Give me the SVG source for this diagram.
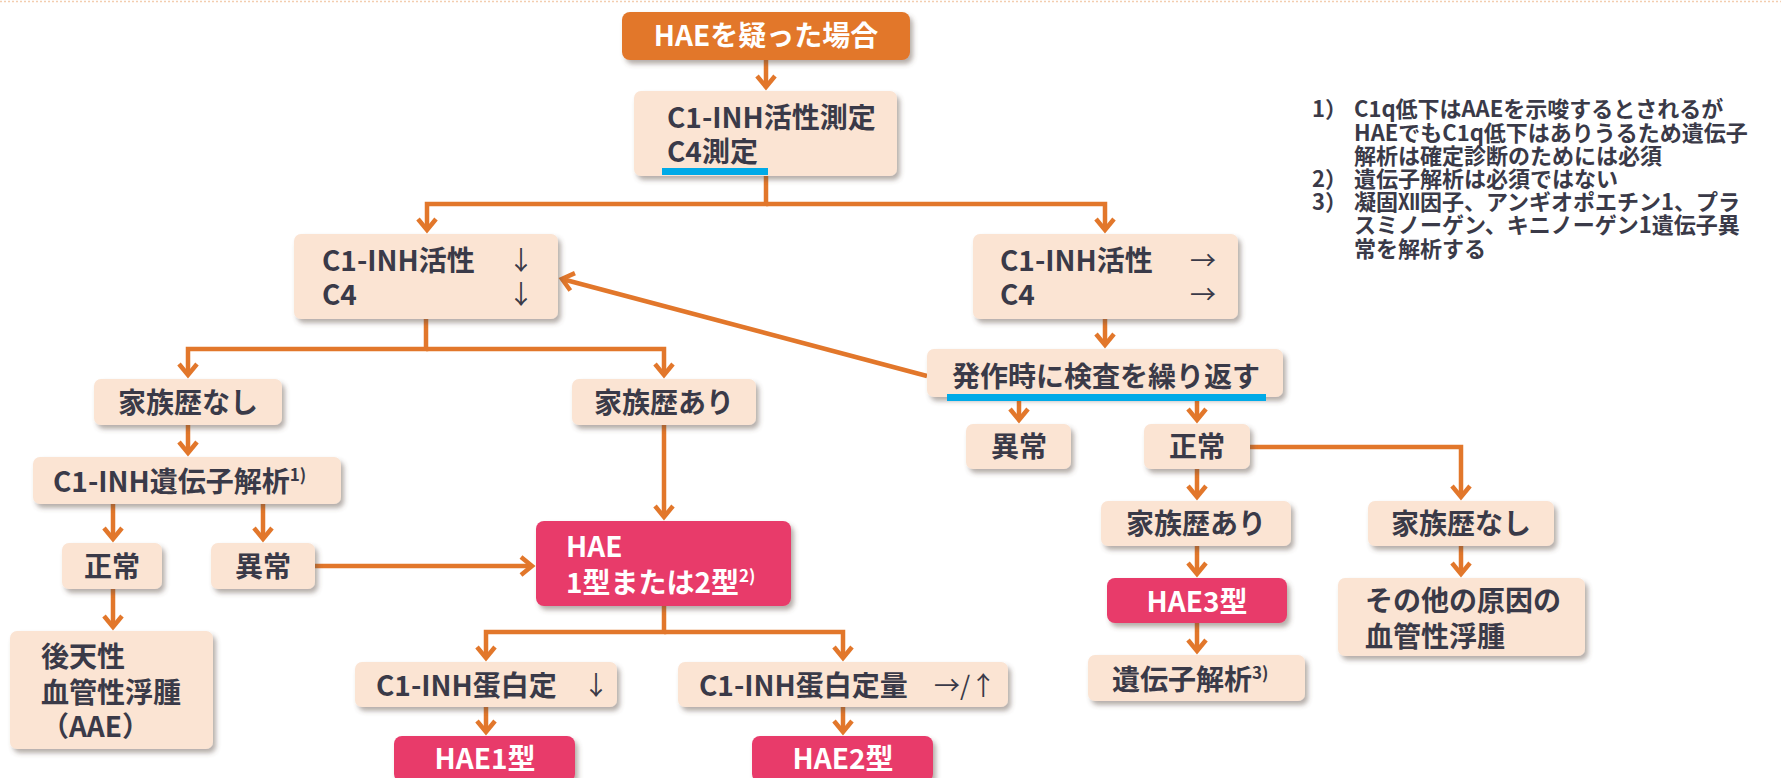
<svg xmlns="http://www.w3.org/2000/svg" width="1781" height="778" viewBox="0 0 1781 778">
  <style>
    .box { fill: #FBE4D3; filter: url(#sh); }
    .pink { fill: #E83B6B; filter: url(#sh); }
    .start { fill: #E2772B; filter: url(#sh); }
    .t { font-family: "Noto Sans CJK JP", "Noto Sans", sans-serif; font-weight: bold; font-size: 28px; fill: #3A3A48; }
    .w { fill: #FFFFFF; }
    .c { text-anchor: middle; }
    .arr { font-family: "Noto Sans CJK JP", sans-serif; font-weight: normal; font-size: 26px; fill: #3A3A48; }
    .sup { font-size: 17px; }
    .note { font-family: "Noto Sans CJK JP", "Noto Sans", sans-serif; font-weight: bold; font-size: 22px; fill: #3A3A48; }
    .ul { fill: #00AAE7; }
    .conn path { fill: none; stroke: #E2772B; stroke-width: 4.5; stroke-linejoin: miter; marker-end: url(#ah); }
  </style>
  <defs>
    <filter id="sh" x="-10%" y="-20%" width="125%" height="150%">
      <feDropShadow dx="3" dy="4" stdDeviation="2.5" flood-color="#5A4A40" flood-opacity="0.45"/>
    </filter>
    <marker id="ah" markerUnits="userSpaceOnUse" orient="auto" refX="0" refY="0" markerWidth="30" markerHeight="30" viewBox="-15 -15 30 30" overflow="visible">
      <path d="M-11,-9 L0,0 L-11,9" fill="none" stroke="#E2772B" stroke-width="4.5"/>
    </marker>
  </defs>

  <rect width="1781" height="778" fill="#FFFFFF"/>
  <line x1="0" y1="1.5" x2="1781" y2="1.5" stroke="#F3CDAF" stroke-width="1.5" stroke-dasharray="2 2"/>

  <!-- connectors -->
  <g id="connectors" class="conn">
    <path d="M766,60 V87"/>
    <path d="M766,176 V204 H427 V230"/>
    <path d="M766,204 H1105 V230"/>
    <path d="M927,376 L562,279"/>
    <path d="M426,319 V349 H188 V375"/>
    <path d="M426,349 H664 V375"/>
    <path d="M1105,319 V345"/>
    <path d="M1019,401 V420"/>
    <path d="M1197,401 V420"/>
    <path d="M188,425 V453"/>
    <path d="M664,425 V517"/>
    <path d="M113,504 V539"/>
    <path d="M263,504 V539"/>
    <path d="M315,566 H532"/>
    <path d="M113,589 V627"/>
    <path d="M664,606 V632 H486 V658"/>
    <path d="M664,632 H843 V658"/>
    <path d="M486,707 V732"/>
    <path d="M843,707 V732"/>
    <path d="M1197,469 V497"/>
    <path d="M1250,447 H1461 V497"/>
    <path d="M1197,546 V574"/>
    <path d="M1197,623 V651"/>
    <path d="M1461,546 V574"/>
  </g>

  <!-- nodes -->
  <g id="n-start">
    <rect class="start" x="622" y="12" width="288" height="48" rx="8"/>
    <text class="t w c" x="766" y="46" font-size="30">HAEを疑った場合</text>
  </g>
  <g id="n-measure">
    <rect class="box" x="634" y="91" width="263" height="85" rx="7"/>
    <text class="t" x="667" y="128">C1-INH活性測定<tspan x="667" dy="34">C4測定</tspan></text>
    <rect class="ul" x="662" y="168" width="106" height="7"/>
  </g>
  <g id="n-low">
    <rect class="box" x="294" y="234" width="264" height="85" rx="7"/>
    <text class="t" x="322" y="271">C1-INH活性<tspan x="322" dy="34">C4</tspan></text>
    <text class="arr c" x="521" y="270">↓<tspan x="521" dy="34">↓</tspan></text>
  </g>
  <g id="n-normal">
    <rect class="box" x="973" y="234" width="265" height="85" rx="7"/>
    <text class="t" x="1000" y="271">C1-INH活性<tspan x="1000" dy="34">C4</tspan></text>
    <text class="arr c" x="1203" y="270">→<tspan x="1203" dy="34">→</tspan></text>
  </g>
  <g id="n-repeat">
    <rect class="box" x="927" y="349" width="356" height="48" rx="7"/>
    <text class="t" x="952" y="387">発作時に検査を繰り返す</text>
    <rect class="ul" x="947" y="394" width="319" height="7"/>
  </g>
  <g id="n-fam-no-l">
    <rect class="box" x="94" y="379" width="188" height="46" rx="7"/>
    <text class="t c" x="188" y="413">家族歴なし</text>
  </g>
  <g id="n-fam-yes-l">
    <rect class="box" x="572" y="379" width="184" height="46" rx="7"/>
    <text class="t c" x="664" y="413">家族歴あり</text>
  </g>
  <g id="n-gene1">
    <rect class="box" x="33" y="457" width="308" height="47" rx="7"/>
    <text class="t" x="53" y="492">C1-INH遺伝子解析<tspan class="sup" dy="-11">1)</tspan></text>
  </g>
  <g id="n-ok-l">
    <rect class="box" x="62" y="543" width="100" height="46" rx="7"/>
    <text class="t c" x="112" y="577">正常</text>
  </g>
  <g id="n-ng-l">
    <rect class="box" x="211" y="543" width="104" height="46" rx="7"/>
    <text class="t c" x="263" y="577">異常</text>
  </g>
  <g id="n-aae">
    <rect class="box" x="10" y="631" width="203" height="118" rx="7"/>
    <text class="t" x="41" y="667">後天性<tspan x="41" dy="36">血管性浮腫</tspan><tspan x="41" dy="34">（AAE）</tspan></text>
  </g>
  <g id="n-hae12">
    <rect class="pink" x="536" y="521" width="255" height="85" rx="8"/>
    <text class="t w" x="566" y="557">HAE<tspan x="566" dy="36">1型または2型</tspan><tspan class="sup" dy="-11">2)</tspan></text>
  </g>
  <g id="n-prot-low">
    <rect class="box" x="355" y="662" width="262" height="45" rx="7"/>
    <text class="t" x="376" y="696">C1-INH蛋白定</text>
    <text class="arr c" x="596" y="695">↓</text>
  </g>
  <g id="n-prot-norm">
    <rect class="box" x="678" y="662" width="330" height="45" rx="7"/>
    <text class="t" x="699" y="696">C1-INH蛋白定量</text>
    <text class="arr" x="934" y="695" font-size="24">→/↑</text>
  </g>
  <g id="n-hae1">
    <rect class="pink" x="394" y="736" width="181" height="46" rx="8"/>
    <text class="t w c" x="485" y="769">HAE1型</text>
  </g>
  <g id="n-hae2">
    <rect class="pink" x="752" y="736" width="181" height="46" rx="8"/>
    <text class="t w c" x="843" y="769">HAE2型</text>
  </g>
  <g id="n-ng-r">
    <rect class="box" x="966" y="424" width="105" height="45" rx="7"/>
    <text class="t c" x="1019" y="457">異常</text>
  </g>
  <g id="n-ok-r">
    <rect class="box" x="1144" y="424" width="106" height="45" rx="7"/>
    <text class="t c" x="1197" y="457">正常</text>
  </g>
  <g id="n-fam-yes-r">
    <rect class="box" x="1101" y="501" width="190" height="45" rx="7"/>
    <text class="t c" x="1196" y="534">家族歴あり</text>
  </g>
  <g id="n-fam-no-r">
    <rect class="box" x="1368" y="501" width="186" height="45" rx="7"/>
    <text class="t c" x="1461" y="534">家族歴なし</text>
  </g>
  <g id="n-hae3">
    <rect class="pink" x="1107" y="578" width="180" height="45" rx="8"/>
    <text class="t w c" x="1197" y="612">HAE3型</text>
  </g>
  <g id="n-gene3">
    <rect class="box" x="1088" y="655" width="217" height="46" rx="7"/>
    <text class="t" x="1112" y="690">遺伝子解析<tspan class="sup" dy="-11">3)</tspan></text>
  </g>
  <g id="n-other">
    <rect class="box" x="1338" y="578" width="247" height="78" rx="7"/>
    <text class="t" x="1365" y="611">その他の原因の<tspan x="1365" dy="36">血管性浮腫</tspan></text>
  </g>

  <!-- footnotes: numbers in one column, wrapped text in the next -->
  <g id="notes" class="note">
    <text x="1312" y="117">1）<tspan x="1312" y="187">2）</tspan><tspan x="1312" y="210">3）</tspan></text>
    <text x="1354" y="117">C1q低下はAAEを示唆するとされるが<tspan x="1354" y="141">HAEでもC1q低下はありうるため遺伝子</tspan><tspan x="1354" y="164">解析は確定診断のためには必須</tspan><tspan x="1354" y="187">遺伝子解析は必須ではない</tspan><tspan x="1354" y="210">凝固Ⅻ因子、アンギオポエチン1、プラ</tspan><tspan x="1354" y="233">スミノーゲン、キニノーゲン1遺伝子異</tspan><tspan x="1354" y="257">常を解析する</tspan></text>
  </g>
</svg>
